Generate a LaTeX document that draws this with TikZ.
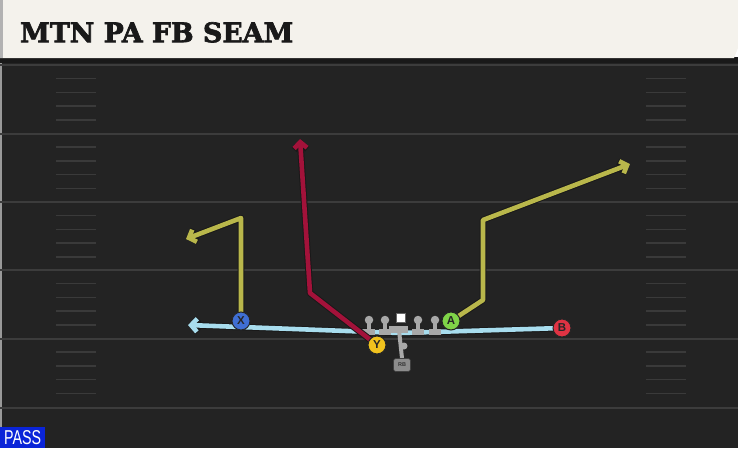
\documentclass[tikz,border=0pt]{standalone}
\usepackage{fontspec}
\usepackage{graphicx}
\usetikzlibrary{arrows.meta}
\newfontfamily\titlefont[BoldFeatures={FakeBold=2.5}]{DejaVu Serif}
\newfontfamily\letterfont{Liberation Sans}
\definecolor{fieldc}{HTML}{232323}
\definecolor{yardc}{HTML}{3C3C3C}
\definecolor{hashc}{HTML}{3A3A3A}
\definecolor{titlebg}{HTML}{F4F2EC}
\definecolor{ryellow}{HTML}{B9B74B}
\definecolor{rred}{HTML}{A3123A}
\definecolor{rcyan}{HTML}{A8DDEE}
\definecolor{pblue}{HTML}{3F6FD3}
\definecolor{pyellow}{HTML}{F0C21E}
\definecolor{pgreen}{HTML}{7FD448}
\definecolor{pred}{HTML}{DF3343}
\definecolor{lgrey}{HTML}{A8A8A8}
\definecolor{passblue}{HTML}{0A24D8}
\pgfdeclarelayer{fieldlayer}
\pgfdeclarelayer{routelayer}
\pgfsetlayers{fieldlayer,routelayer,main}
\newcommand\drawroute[3]{\draw[routeout,#3] #2; \draw[routeline,draw=#1,#3] #2;}
\begin{document}
\begin{tikzpicture}[x=1pt,y=-1pt,
  player/.style={circle,draw=black!85,line width=1pt,minimum size=18pt,inner sep=0pt,
    font=\letterfont\bfseries\fontsize{11.5}{11.5}\selectfont,text=black!85},
  routeout/.style={draw=black!90,line width=6.6pt,line join=round},
  routeline/.style={line width=4.6pt,line join=round},
  tipped/.style={-{Straight Barb[length=6pt,width=13pt]}},
  lman/.style={circle,fill=lgrey,inner sep=0pt,minimum size=8.5pt},
  yard/.style={draw=yardc,line width=2pt},
  hash/.style={draw=hashc,line width=1.5pt}]
\useasboundingbox (0,0) rectangle (738,448);
\begin{pgfonlayer}{fieldlayer}
  \fill[fieldc] (0,58) rectangle (738,448);
  \fill[black!40] (0,58) rectangle (2,448);
  \foreach \yy in {65,133.5,202,270,338.5,407.5} {\draw[yard] (0,\yy) -- (738,\yy);}
  \foreach \yy in {65,133.5,202,270,338.5} {
    \foreach \k in {1,2,3,4} {
      \draw[hash] (56,\yy+13.7*\k) -- (96,\yy+13.7*\k);
      \draw[hash] (646,\yy+13.7*\k) -- (686,\yy+13.7*\k);
    }
  }
  \fill[black!90] (0,57) rectangle (738,63);
  \fill[titlebg] (0,0) -- (738,0) -- (738,48) -- (734,58) -- (0,58) -- cycle;
  \fill[black!30] (0,0) rectangle (3,58);
\end{pgfonlayer}

\node[anchor=north west,inner sep=0pt,text=black!90] (title) at (20,22)
  {\resizebox{273pt}{20pt}{\titlefont\bfseries MTN PA FB SEAM}};
\node[anchor=south west,fill=passblue,inner sep=0pt,minimum width=45pt,minimum height=21pt,text=white] (pass) at (0,448)
  {\resizebox{37pt}{14pt}{\letterfont PASS}};

\node[lman] (L1) at (369,320) {};
\node[lman] (L2) at (385,320) {};
\node[lman] (L3) at (418,320) {};
\node[lman] (L4) at (435,320) {};
\node[fill=white,draw=black!60,line width=0.4pt,minimum size=9pt,inner sep=0pt] (C) at (401,318) {};
\node[circle,fill=lgrey,inner sep=0pt,minimum size=7pt] (QB) at (404,346) {};
\node[rounded corners=2.5pt,fill=black!45,draw=black!75,line width=0.6pt,minimum width=17pt,minimum height=13pt,inner sep=0pt,
  font=\letterfont\bfseries\fontsize{5.5}{5.5}\selectfont,text=black!80] (RB) at (402,365) {RB};

\node[player,fill=pblue] (X) at (241,321) {X};
\node[player,fill=pyellow] (Y) at (377,345) {Y};
\node[player,fill=pgreen] (A) at (451,321) {A};
\node[player,fill=pred] (B) at (562,328) {B};

\coordinate (xc) at (241,218);
\coordinate (xt) at (186,239);
\coordinate (yk) at (310,293);
\coordinate (yt) at (300,139);
\coordinate (ak) at (483,300);
\coordinate (ac) at (483,220);
\coordinate (at) at (630,164);
\coordinate (bk) at (400,333);
\coordinate (bt) at (188,325);

\begin{pgfonlayer}{routelayer}
  \drawroute{rcyan}{(B.center) -- (bk) -- (bt)}{tipped}
  \foreach \xx in {369,385,418,435} {
    \fill[lgrey] (\xx-2,320) rectangle (\xx+2,331);
    \fill[lgrey] (\xx-6,329) rectangle (\xx+6,335);
  }
  \fill[lgrey] (389,326) rectangle (408,333);
  \draw[lgrey,line width=4pt] (399,330) -- (RB.north);
  \drawroute{ryellow}{(X.center) -- (xc) -- (xt)}{tipped}
  \drawroute{rred}{(Y.center) -- (yk) -- (yt)}{tipped}
  \drawroute{ryellow}{(A.center) -- (ak) -- (ac) -- (at)}{tipped}
\end{pgfonlayer}
\end{tikzpicture}
\end{document}
